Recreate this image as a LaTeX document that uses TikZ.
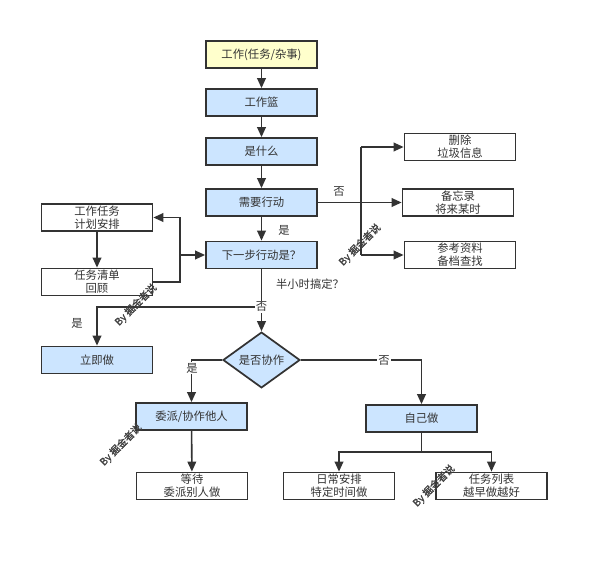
\documentclass[tikz,border=0pt]{standalone}
\usepackage{fontspec}
\setmainfont{Noto Sans CJK SC}
\newfontfamily\wmfont[FakeBold=1.5]{Noto Sans CJK SC}
\usetikzlibrary{arrows.meta,shapes.geometric}
\definecolor{linec}{HTML}{333333}
\definecolor{txtc}{HTML}{333333}
\definecolor{bluef}{HTML}{CCE5FF}
\definecolor{yelf}{HTML}{FFFFCC}
\tikzset{
  box/.style={draw=linec, line width=1.3pt, minimum width=83.25pt, minimum height=20.25pt,
    inner sep=0pt, text=txtc, align=center, font=\fontsize{8.5pt}{9.75pt}\selectfont},
  bluebox/.style={box, fill=bluef},
  yelbox/.style={box, fill=yelf},
  whitebox/.style={box, fill=white},
  dia/.style={diamond, draw=linec, line width=1.3pt, fill=bluef, minimum width=57.75pt,
    minimum height=30pt, inner sep=0pt, text=txtc, font=\fontsize{8.5pt}{9.75pt}\selectfont},
  conn/.style={draw=linec, line width=1.2pt},
  arr/.style={conn, -{Triangle[length=7.5pt,width=6.5pt]}},
  lbl/.style={text=txtc, font=\fontsize{8.5pt}{9.75pt}\selectfont, inner sep=1pt},
  lblw/.style={lbl, fill=white},
  wm/.style={text=black!75, font=\wmfont\fontsize{7.5pt}{8pt}\selectfont, rotate=45, inner sep=0pt}
}
\begin{document}
\begin{tikzpicture}[x=0.75pt, y=-0.75pt]
\useasboundingbox (0,0) rectangle (600,570);
% main column
\node[yelbox] (a) at (261.5,54.5) {工作(任务/杂事)};
\node[bluebox] (b) at (261.5,102.5) {工作篮};
\node[bluebox] (c) at (261.5,151.5) {是什么};
\node[bluebox] (d) at (261.5,202.5) {需要行动};
\node[bluebox] (e) at (261.5,255) {下一步行动是？};
% right column
\node[whitebox] (del) at (460,147) {删除\\垃圾信息};
\node[whitebox] (memo) at (458,202.5) {备忘录\\将来某时};
\node[whitebox] (ref) at (460,255) {参考资料\\备档查找};
% left column
\node[whitebox] (plan) at (97,217.5) {工作任务\\计划安排};
\node[whitebox] (list) at (97,282) {任务清单\\回顾};
\node[bluebox] (now) at (97,360) {立即做};
% lower
\node[dia] (co) at (261.5,360) {是否协作};
\node[bluebox] (deleg) at (191.5,416.5) {委派/协作他人};
\node[bluebox] (self) at (421.5,418.5) {自己做};
\node[whitebox] (wait) at (192,486) {等待\\委派别人做};
\node[whitebox] (daily) at (339,486) {日常安排\\特定时间做};
\node[whitebox] (tasks) at (491.5,486) {任务列表\\越早做越好};
% coordinates
\coordinate (jn) at (361,202.5);
\coordinate (lj) at (180,255);
\coordinate (q) at (261.5,307);
\coordinate (sj) at (421.5,452);
% connectors
\draw[arr] (a) -- (b);
\draw[arr] (b) -- (c);
\draw[arr] (c) -- (d);
\draw[arr] (d) -- (e);
\draw[arr] (d.east) -- (memo.west);
\draw[conn] (jn |- del.west) -- (jn |- ref.west);
\draw[arr] (jn |- del.west) -- (del.west);
\draw[arr] (jn |- ref.west) -- (ref.west);
\draw[arr] (plan) -- (list);
\draw[conn] (list.east) -| (lj);
\draw[arr] (lj) |- (plan.east);
\draw[arr] (lj) -- (e.west);
\draw[conn] (e.south) -- (q);
\draw[arr] (q) -| (now.north);
\draw[arr] (q) -- (co.north);
\draw[arr] (co.west) -| (deleg.north);
\draw[arr] (co.east) -| (self.north);
\draw[arr] (deleg) -- (wait);
\draw[conn] (self.south) -- (sj);
\draw[arr] (sj) -| (daily.north);
\draw[arr] (sj) -| (tasks.north);
% labels
\node[lbl] (l1) at (339,192) {否};
\node[lbl] (l2) at (284,230) {是};
\node[lbl] (l3) at (310,284) {半小时搞定？};
\node[lblw] (l4) at (q) {否};
\node[lbl] (l5) at (77,323) {是};
\node[lblw] (l6) at (192,368) {是};
\node[lblw] (l7) at (384,361) {否};
% watermarks
\node[wm] (w1) at (360,245) {By 掘金者说};
\node[wm] (w2) at (136,305) {By 掘金者说};
\node[wm] (w3) at (121,445) {By 掘金者说};
\node[wm] (w4) at (434,486) {By 掘金者说};
\end{tikzpicture}
\end{document}
